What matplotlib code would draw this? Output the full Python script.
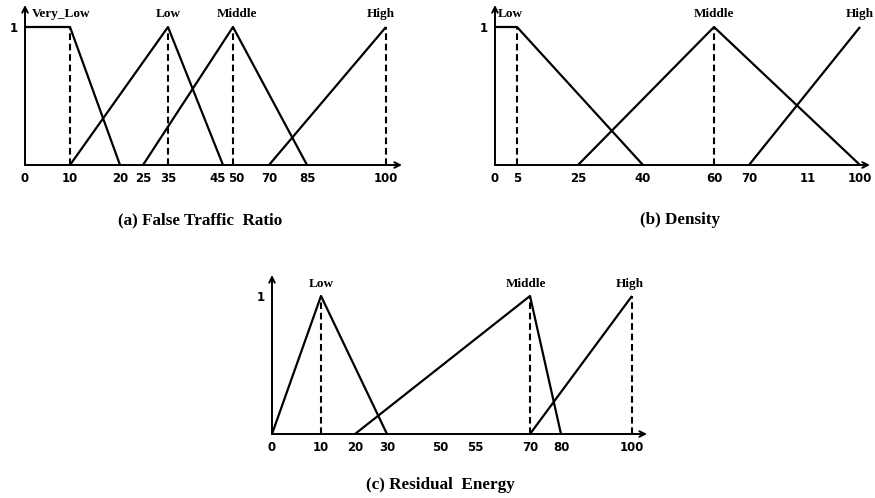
import numpy as np
import matplotlib
matplotlib.use('Agg')
import matplotlib.pyplot as plt
import matplotlib.transforms as mtransforms

# ---- data: membership functions (value, membership) ----
# (a) False Traffic Ratio
a_ticks = [0, 10, 20, 25, 35, 45, 50, 70, 85, 100]
a_ticklabels = ['0', '10', '20', '25', '35', '45', '50', '70', '85', '100']
a_sets = {
    'Very_Low': ([0, 10, 20], [1, 1, 0]),
    'Low': ([10, 35, 45], [0, 1, 0]),
    'Middle': ([25, 50, 85], [0, 1, 0]),
    'High': ([70, 100], [0, 1]),
}
a_dashed = [10, 35, 50, 100]
a_labels = {'Very_Low': 8, 'Low': 35, 'Middle': 52, 'High': 99}

# (b) Density
b_ticks = [0, 5, 25, 40, 60, 70, 85, 100]
b_ticklabels = ['0', '5', '25', '40', '60', '70', '11', '100']
b_sets = {
    'Low': ([0, 5, 40], [1, 1, 0]),
    'Middle': ([25, 60, 100], [0, 1, 0]),
    'High': ([70, 100], [0, 1]),
}
b_dashed = [5, 60]
b_labels = {'Low': 3.5, 'Middle': 60, 'High': 100}

# (c) Residual Energy
c_ticks = [0, 10, 20, 30, 50, 55, 70, 80, 100]
c_ticklabels = ['0', '10', '20', '30', '50', '55', '70', '80', '100']
c_sets = {
    'Low': ([0, 10, 30], [0, 1, 0]),
    'Middle': ([20, 70, 80], [0, 1, 0]),
    'High': ([70, 100], [0, 1]),
}
c_dashed = [10, 70, 100]
c_labels = {'Low': 10, 'Middle': 69, 'High': 99.5}

# ---- layout (pixels in the 875x498 figure) ----
W, H = 875, 498
# tick pixel positions along each x axis (the drawing is not to scale)
a_px = [25, 70, 120, 143, 168, 223, 233, 269, 307, 386]
b_px = [495, 517, 578, 643, 714, 749, 808, 860]
c_px = [272, 321, 355, 387, 440, 475, 530, 561, 632]
# small sideways nudges of crowded tick labels (pixels)
a_nudge = {'45': -5, '50': 3}

panels = [
    dict(ticks=a_ticks, labels=a_ticklabels, sets=a_sets, dashed=a_dashed,
         names=a_labels, px=a_px, bottom=165, top=27, arrow_x=402, arrow_y=5,
         title='(a) False Traffic  Ratio', title_xy=(200, 220), name_y=14,
         nudge=a_nudge),
    dict(ticks=b_ticks, labels=b_ticklabels, sets=b_sets, dashed=b_dashed,
         names=b_labels, px=b_px, bottom=165, top=27, arrow_x=870, arrow_y=5,
         title='(b) Density', title_xy=(680, 220), name_y=14, nudge={}),
    dict(ticks=c_ticks, labels=c_ticklabels, sets=c_sets, dashed=c_dashed,
         names=c_labels, px=c_px, bottom=434, top=296, arrow_x=647, arrow_y=275,
         title='(c) Residual  Energy', title_xy=(440, 485), name_y=284,
         nudge={}),
]

fig = plt.figure(figsize=(W / 100, H / 100), dpi=100)
serif = 'Liberation Serif'

for p in panels:
    px = np.array(p['px'], dtype=float)
    left, right = px[0], px[-1]
    fr = (px - left) / (right - left)
    ticks = np.array(p['ticks'], dtype=float)

    def fwd(v, t=ticks, f=fr):
        return np.interp(v, t, f)

    def inv(v, t=ticks, f=fr):
        return np.interp(v, f, t)

    ax = fig.add_axes([left / W, 1 - p['bottom'] / H,
                       (right - left) / W, (p['bottom'] - p['top']) / H])
    ax.set_xscale('function', functions=(fwd, inv))
    ax.set_xlim(0, 100)
    ax.set_ylim(0, 1)
    for s in ax.spines.values():
        s.set_visible(False)

    for name, (xs, ys) in p['sets'].items():
        ax.plot(xs, ys, color='black', lw=1.6, clip_on=False,
                solid_capstyle='butt')
    for xd in p['dashed']:
        ax.plot([xd, xd], [0, 1], color='black', lw=1.5,
                linestyle=(0, (3.2, 1.8)), clip_on=False)
    for name, xv in p['names'].items():
        ax.text(xv, (p['bottom'] - p['name_y']) / (p['bottom'] - p['top']),
                name, ha='center', va='center', fontsize=9.5,
                family=serif, weight='bold', clip_on=False)

    # axis arrows
    ax_w = right - left
    ax_h = p['bottom'] - p['top']
    ax.annotate('', xy=((p['arrow_x'] - left) / ax_w, 0), xytext=(0, 0),
                xycoords='axes fraction',
                arrowprops=dict(arrowstyle='->', color='black', lw=1.4,
                                shrinkA=0, shrinkB=0))
    ax.annotate('', xy=(0, (p['bottom'] - p['arrow_y']) / ax_h), xytext=(0, 0),
                xycoords='axes fraction',
                arrowprops=dict(arrowstyle='->', color='black', lw=1.4,
                                shrinkA=0, shrinkB=0))

    ax.set_xticks(p['ticks'])
    ax.set_xticklabels(p['labels'])
    ax.set_yticks([1])
    ax.set_yticklabels(['1'])
    ax.tick_params(length=0, labelsize=8.5, pad=5)
    for lab in ax.get_xticklabels() + ax.get_yticklabels():
        lab.set_fontweight('bold')
    for lab in ax.get_xticklabels():
        dx = p['nudge'].get(lab.get_text(), 0)
        if dx:
            off = mtransforms.ScaledTranslation(dx / 100, 0, fig.dpi_scale_trans)
            lab.set_transform(lab.get_transform() + off)
    ax.minorticks_off()

    fig.text(p['title_xy'][0] / W, 1 - p['title_xy'][1] / H, p['title'],
             ha='center', va='center', fontsize=12.3, family=serif,
             weight='bold')

fig.savefig('out.png', dpi=100)
